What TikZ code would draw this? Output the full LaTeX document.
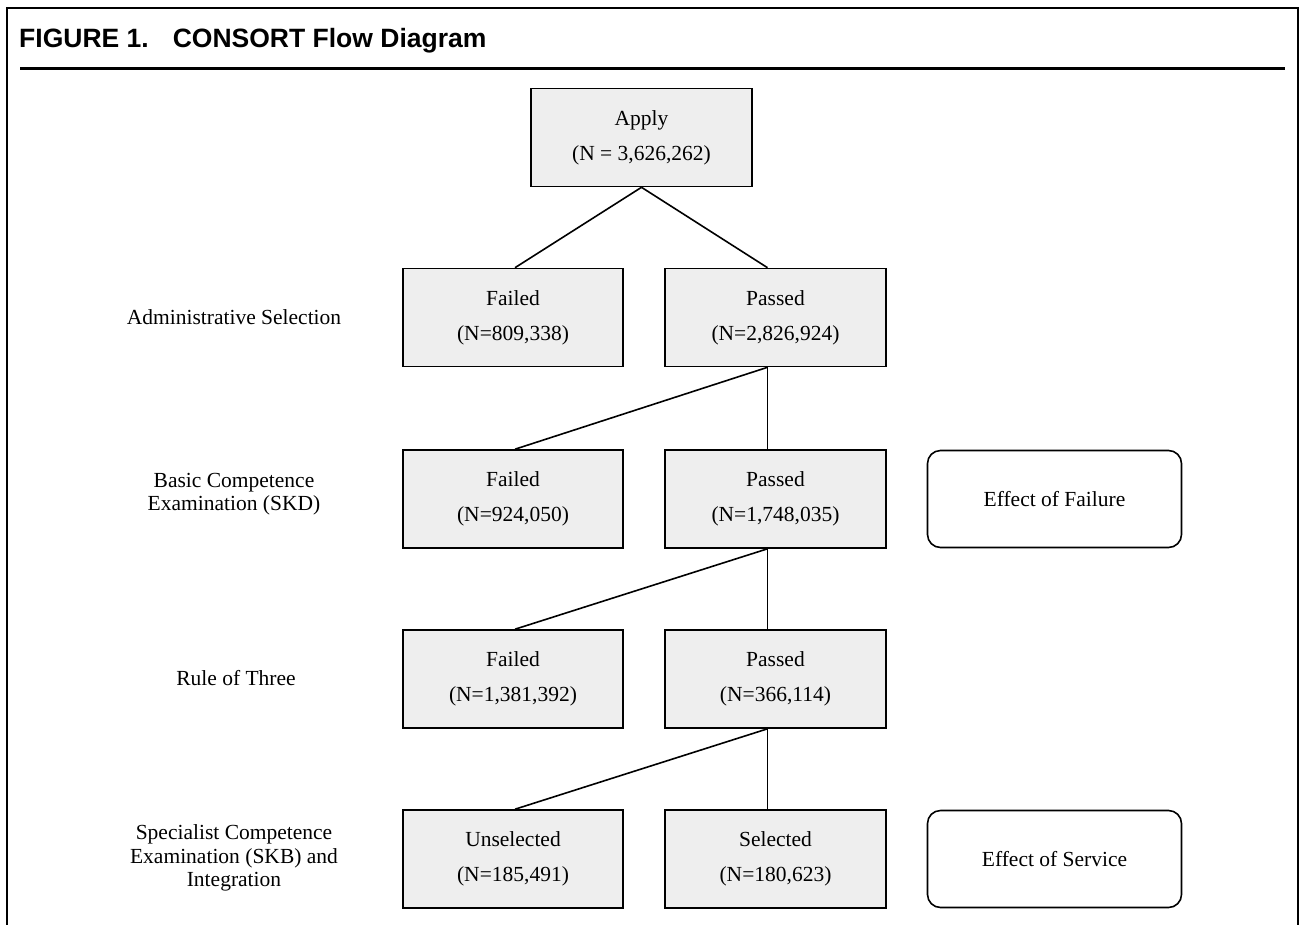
\documentclass[tikz,border=0pt]{standalone}
\usepackage{fontspec}
\setmainfont{Liberation Serif}
\newfontfamily\titlefont{Liberation Sans}
\definecolor{boxgray}{RGB}{238,238,238}
\tikzset{
  box/.style={draw, fill=boxgray, line width=1.6pt, minimum width=220pt, minimum height=98pt,
    align=center, inner sep=0pt, font=\fontsize{21.5}{35}\selectfont},
  rbox/.style={draw, fill=white, line width=1.6pt, rounded corners=13pt, minimum width=254pt,
    minimum height=97pt, align=center, inner sep=0pt, font=\fontsize{21.5}{24}\selectfont},
  lab/.style={align=center, inner sep=0pt, font=\fontsize{21.5}{23.5}\selectfont},
  conn/.style={line width=1.6pt},
  frame/.style={line width=2pt}
}
\begin{document}
\begin{tikzpicture}[x=1pt,y=-1pt]
\useasboundingbox (0,0) rectangle (1300,924);
% frame
\coordinate (fbl) at (7,925);
\coordinate (ftl) at (7,8);
\coordinate (ftr) at (1298,8);
\coordinate (fbr) at (1298,925);
\draw[frame] (fbl) -- (ftl) -- (ftr) -- (fbr);
\coordinate (rl) at (20,68);
\coordinate (rr) at (1285,68);
\draw[line width=3pt] (rl) -- (rr);
\node[anchor=west, inner sep=0pt, font=\titlefont\bfseries\fontsize{26.5}{30}\selectfont] (title) at (19,41) {FIGURE 1.\hspace{24pt}CONSORT Flow Diagram};
% boxes
\node[box, minimum width=221pt] (apply) at (641.5,137.5) {Apply\\(N = 3,626,262)};
\node[box] (f1) at (513,317.5) {Failed\\(N=809,338)};
\node[box, minimum width=221pt] (p1) at (775.5,317.5) {Passed\\(N=2,826,924)};
\node[box] (f2) at (513,499) {Failed\\(N=924,050)};
\node[box, minimum width=221pt] (p2) at (775.5,499) {Passed\\(N=1,748,035)};
\node[box] (f3) at (513,679) {Failed\\(N=1,381,392)};
\node[box, minimum width=221pt] (p3) at (775.5,679) {Passed\\(N=366,114)};
\node[box] (f4) at (513,859) {Unselected\\(N=185,491)};
\node[box, minimum width=221pt] (p4) at (775.5,859) {Selected\\(N=180,623)};
\node[rbox] (ef) at (1054.5,499) {Effect of Failure};
\node[rbox] (es) at (1054.5,859) {Effect of Service};
% labels
\node[lab] (l1) at (234,317) {Administrative Selection};
\node[lab] (l2) at (234,494) {Basic Competence\\Examination (SKD)};
\node[lab] (l3) at (236,678) {Rule of Three};
\node[lab] (l4) at (234,858) {Specialist Competence\\Examination (SKB) and\\Integration};
% connectors
\draw[conn] (apply.south) -- ([xshift=2pt]f1.north);
\draw[conn] (apply.south) -- ([xshift=-8pt]p1.north);
\draw[conn] ([xshift=-8pt]p1.south) -- ([xshift=2pt]f2.north);
\draw[conn] ([xshift=-8pt]p1.south) -- ([xshift=-8pt]p2.north);
\draw[conn] ([xshift=-8pt]p2.south) -- ([xshift=2pt]f3.north);
\draw[conn] ([xshift=-8pt]p2.south) -- ([xshift=-8pt]p3.north);
\draw[conn] ([xshift=-8pt]p3.south) -- ([xshift=2pt]f4.north);
\draw[conn] ([xshift=-8pt]p3.south) -- ([xshift=-8pt]p4.north);
\end{tikzpicture}
\end{document}
